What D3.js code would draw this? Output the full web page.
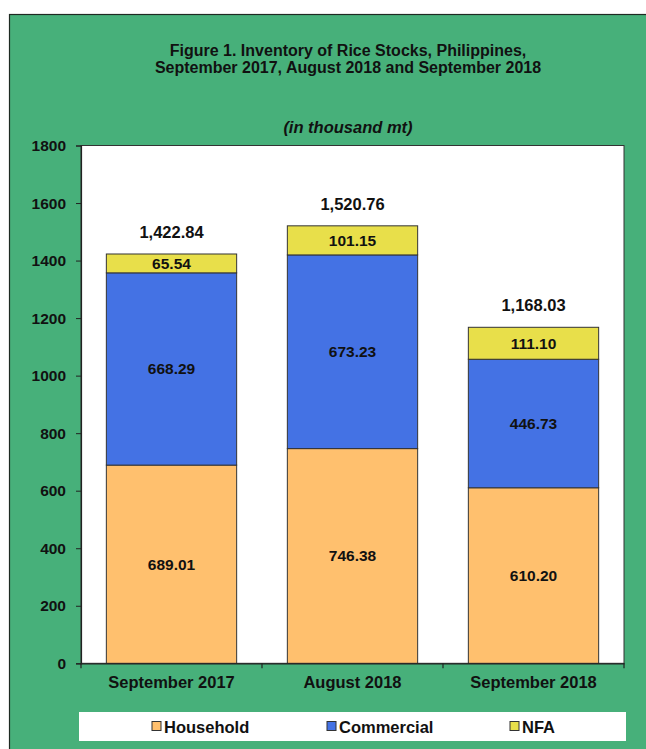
<!DOCTYPE html>
<html>
<head>
<meta charset="utf-8">
<script src="https://cdn.jsdelivr.net/npm/d3@7"></script>
<style>
  html, body { margin: 0; padding: 0; background: #ffffff; }
  svg { display: block; }
  text { font-family: "Liberation Sans", Arial, sans-serif; font-weight: bold; fill: #111; }
</style>
</head>
<body>
<svg id="chart" width="646" height="749"></svg>
<script>
const categories = ["September 2017", "August 2018", "September 2018"];
const household = [689.01, 746.38, 610.20];
const commercial = [668.29, 673.23, 446.73];
const nfa = [65.54, 101.15, 111.10];
const seriesNames = ["Household", "Commercial", "NFA"];
const seriesColors = ["#FFC06E", "#4472E4", "#E8DF4A"];
const yTicks = [0, 200, 400, 600, 800, 1000, 1200, 1400, 1600, 1800];

(function () {
const svg = d3.select("#chart");

// outer green frame
svg.append("rect").attr("x", 9.5).attr("y", 14.5).attr("width", 700).attr("height", 800)
  .attr("fill", "#47B07A").attr("stroke", "#1e2a22").attr("stroke-width", 1.2);

// titles
const title = svg.append("text").attr("text-anchor", "middle").attr("font-size", 16);
title.append("tspan").attr("x", 348).attr("y", 56).text("Figure 1. Inventory of Rice Stocks, Philippines,");
title.append("tspan").attr("x", 348).attr("y", 73).text("September 2017, August 2018 and September 2018");

svg.append("text").attr("x", 348).attr("y", 133).attr("text-anchor", "middle")
  .attr("font-size", 16.5).attr("font-style", "italic").text("(in thousand mt)");

const pL = 81, pR = 624, pT = 145.5, pB = 663.3;

const x = d3.scaleBand().domain(categories).range([pL, pR]).paddingInner(0.28).paddingOuter(0.14);
const y = d3.scaleLinear().domain([0, 1800]).range([pB, pT]);

// plot area
svg.append("rect").attr("x", pL).attr("y", pT).attr("width", pR - pL).attr("height", pB - pT)
  .attr("fill", "#ffffff").attr("stroke", "#333").attr("stroke-width", 1);

// stacked data
const rows = categories.map((c, i) => ({ cat: c, Household: household[i], Commercial: commercial[i], NFA: nfa[i] }));
const stack = d3.stack().keys(seriesNames)(rows);

stack.forEach((layer, li) => {
  const g = svg.append("g");
  g.selectAll("rect").data(layer).enter().append("rect")
    .attr("x", d => x(d.data.cat))
    .attr("width", x.bandwidth())
    .attr("y", d => y(d[1]))
    .attr("height", d => y(d[0]) - y(d[1]))
    .attr("fill", seriesColors[li])
    .attr("stroke", "#333").attr("stroke-width", 1);
  g.selectAll("text").data(layer).enter().append("text")
    .attr("x", d => x(d.data.cat) + x.bandwidth() / 2)
    .attr("y", d => (y(d[0]) + y(d[1])) / 2 + 5.5)
    .attr("text-anchor", "middle").attr("font-size", 15.5)
    .text(d => d3.format(".2f")(d[1] - d[0]));
});

// totals
const fmt = d3.format(",.2f");
svg.append("g").selectAll("text").data(rows).enter().append("text")
  .attr("x", d => x(d.cat) + x.bandwidth() / 2)
  .attr("y", d => y(d.Household + d.Commercial + d.NFA) - 16)
  .attr("text-anchor", "middle").attr("font-size", 16.5)
  .text(d => fmt(d.Household + d.Commercial + d.NFA));

// y axis
const yAxis = svg.append("g").attr("transform", `translate(${pL},0)`)
  .call(d3.axisLeft(y).tickValues(yTicks).tickSize(5).tickPadding(10).tickFormat(d3.format("d")));
yAxis.select(".domain").attr("stroke", "#222").attr("stroke-width", 1.2);
yAxis.selectAll(".tick line").attr("stroke", "#222");
yAxis.selectAll(".tick text").attr("font-size", 15.5).attr("font-family", "Liberation Sans, Arial, sans-serif")
  .attr("font-weight", "bold").attr("fill", "#111");

// x axis
const xAxis = svg.append("g").attr("transform", `translate(0,${pB})`)
  .call(d3.axisBottom(x).tickSize(0).tickPadding(13));
xAxis.select(".domain").attr("stroke", "#222").attr("stroke-width", 1.2);
xAxis.selectAll(".tick text").attr("font-size", 16.5).attr("font-family", "Liberation Sans, Arial, sans-serif")
  .attr("font-weight", "bold").attr("fill", "#111");
// boundary ticks between categories
const bounds = [pL, ...categories.map(c => x(c) + x.bandwidth() + x.step() * x.paddingInner() / 2)];
bounds[bounds.length - 1] = pR;
svg.append("g").selectAll("line").data(bounds).enter().append("line")
  .attr("x1", d => d).attr("x2", d => d).attr("y1", pB).attr("y2", pB + 5)
  .attr("stroke", "#222").attr("stroke-width", 1.2);

// legend
svg.append("rect").attr("x", 79).attr("y", 712).attr("width", 547).attr("height", 29).attr("fill", "#ffffff");
const legendX = [152, 327, 510];
const lg = svg.append("g").selectAll("g").data(seriesNames).enter().append("g")
  .attr("transform", (d, i) => `translate(${legendX[i]},726.5)`);
lg.append("rect").attr("x", 0).attr("y", -5).attr("width", 9).attr("height", 9)
  .attr("fill", (d, i) => seriesColors[i]).attr("stroke", "#333").attr("stroke-width", 1);
lg.append("text").attr("x", 12).attr("y", 6).attr("font-size", 16.5).text(d => d);
})();
</script>
</body>
</html>
